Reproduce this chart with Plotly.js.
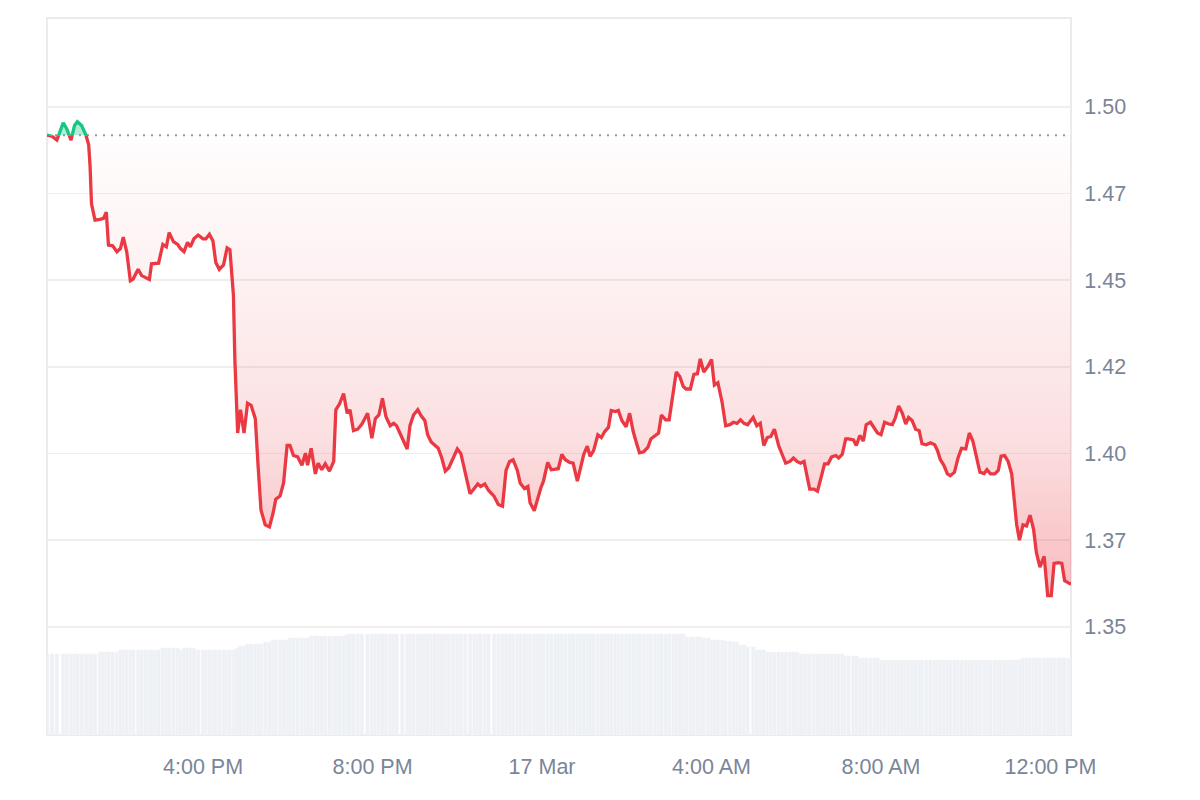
<!DOCTYPE html>
<html><head><meta charset="utf-8">
<script src="https://cdn.plot.ly/plotly-3.0.1.min.js"></script>
<style>html,body{margin:0;padding:0;background:#fff}#chart{width:1200px;height:800px}</style>
</head><body><div id="chart"></div>
<script>
const times = [
"2025-03-16 12:19","2025-03-16 12:26","2025-03-16 12:33","2025-03-16 12:42","2025-03-16 12:47","2025-03-16 12:53","2025-03-16 12:58","2025-03-16 13:02","2025-03-16 13:08","2025-03-16 13:14",
"2025-03-16 13:18","2025-03-16 13:20","2025-03-16 13:22","2025-03-16 13:27","2025-03-16 13:34","2025-03-16 13:39","2025-03-16 13:43","2025-03-16 13:46","2025-03-16 13:52","2025-03-16 13:58",
"2025-03-16 14:03","2025-03-16 14:07","2025-03-16 14:12","2025-03-16 14:17","2025-03-16 14:21","2025-03-16 14:28","2025-03-16 14:33","2025-03-16 14:39","2025-03-16 14:44","2025-03-16 14:47",
"2025-03-16 14:52","2025-03-16 14:57","2025-03-16 15:03","2025-03-16 15:08","2025-03-16 15:12","2025-03-16 15:18","2025-03-16 15:24","2025-03-16 15:28","2025-03-16 15:33","2025-03-16 15:38",
"2025-03-16 15:42","2025-03-16 15:47","2025-03-16 15:53","2025-03-16 16:00","2025-03-16 16:04","2025-03-16 16:09","2025-03-16 16:14","2025-03-16 16:18","2025-03-16 16:23","2025-03-16 16:29",
"2025-03-16 16:34","2025-03-16 16:38","2025-03-16 16:43","2025-03-16 16:45","2025-03-16 16:49","2025-03-16 16:53","2025-03-16 16:58","2025-03-16 17:03","2025-03-16 17:08","2025-03-16 17:14",
"2025-03-16 17:18","2025-03-16 17:22","2025-03-16 17:28","2025-03-16 17:34","2025-03-16 17:39","2025-03-16 17:43","2025-03-16 17:49","2025-03-16 17:54","2025-03-16 17:59","2025-03-16 18:03",
"2025-03-16 18:08","2025-03-16 18:14","2025-03-16 18:20","2025-03-16 18:25","2025-03-16 18:28","2025-03-16 18:33","2025-03-16 18:39","2025-03-16 18:43","2025-03-16 18:48","2025-03-16 18:53",
"2025-03-16 18:59","2025-03-16 19:05","2025-03-16 19:08","2025-03-16 19:13","2025-03-16 19:19","2025-03-16 19:24","2025-03-16 19:28","2025-03-16 19:33","2025-03-16 19:39","2025-03-16 19:45",
"2025-03-16 19:53","2025-03-16 19:59","2025-03-16 20:04","2025-03-16 20:09","2025-03-16 20:14","2025-03-16 20:19","2025-03-16 20:25","2025-03-16 20:30","2025-03-16 20:34","2025-03-16 20:42",
"2025-03-16 20:49","2025-03-16 20:53","2025-03-16 20:58","2025-03-16 21:04","2025-03-16 21:09","2025-03-16 21:14","2025-03-16 21:18","2025-03-16 21:23","2025-03-16 21:28","2025-03-16 21:33",
"2025-03-16 21:38","2025-03-16 21:43","2025-03-16 21:48","2025-03-16 21:54","2025-03-16 22:00","2025-03-16 22:05","2025-03-16 22:11","2025-03-16 22:18","2025-03-16 22:24","2025-03-16 22:29",
"2025-03-16 22:33","2025-03-16 22:39","2025-03-16 22:44","2025-03-16 22:52","2025-03-16 22:58","2025-03-16 23:04","2025-03-16 23:09","2025-03-16 23:14","2025-03-16 23:19","2025-03-16 23:25",
"2025-03-16 23:29","2025-03-16 23:35","2025-03-16 23:40","2025-03-16 23:43","2025-03-16 23:49","2025-03-16 23:54","2025-03-16 23:58","2025-03-17 00:02","2025-03-17 00:08","2025-03-17 00:13",
"2025-03-17 00:19","2025-03-17 00:23","2025-03-17 00:28","2025-03-17 00:33","2025-03-17 00:39","2025-03-17 00:44","2025-03-17 00:50","2025-03-17 00:54","2025-03-17 00:59","2025-03-17 01:04",
"2025-03-17 01:08","2025-03-17 01:13","2025-03-17 01:19","2025-03-17 01:24","2025-03-17 01:29","2025-03-17 01:34","2025-03-17 01:38","2025-03-17 01:44","2025-03-17 01:48","2025-03-17 01:53",
"2025-03-17 01:59","2025-03-17 02:04","2025-03-17 02:09","2025-03-17 02:14","2025-03-17 02:18","2025-03-17 02:24","2025-03-17 02:30","2025-03-17 02:34","2025-03-17 02:40","2025-03-17 02:45",
"2025-03-17 02:49","2025-03-17 02:55","2025-03-17 03:00","2025-03-17 03:06","2025-03-17 03:10","2025-03-17 03:15","2025-03-17 03:20","2025-03-17 03:24","2025-03-17 03:30","2025-03-17 03:35",
"2025-03-17 03:40","2025-03-17 03:44","2025-03-17 03:49","2025-03-17 03:55","2025-03-17 04:00","2025-03-17 04:04","2025-03-17 04:09","2025-03-17 04:15","2025-03-17 04:20","2025-03-17 04:26",
"2025-03-17 04:31","2025-03-17 04:36","2025-03-17 04:41","2025-03-17 04:46","2025-03-17 04:51","2025-03-17 04:59","2025-03-17 05:04","2025-03-17 05:09","2025-03-17 05:14","2025-03-17 05:19",
"2025-03-17 05:24","2025-03-17 05:29","2025-03-17 05:35","2025-03-17 05:40","2025-03-17 05:45","2025-03-17 05:51","2025-03-17 05:56","2025-03-17 06:01","2025-03-17 06:06","2025-03-17 06:11",
"2025-03-17 06:15","2025-03-17 06:19","2025-03-17 06:25","2025-03-17 06:30","2025-03-17 06:35","2025-03-17 06:40","2025-03-17 06:45","2025-03-17 06:50","2025-03-17 06:56","2025-03-17 07:00",
"2025-03-17 07:05","2025-03-17 07:10","2025-03-17 07:14","2025-03-17 07:21","2025-03-17 07:25","2025-03-17 07:30","2025-03-17 07:35","2025-03-17 07:39","2025-03-17 07:45","2025-03-17 07:51",
"2025-03-17 07:55","2025-03-17 08:00","2025-03-17 08:05","2025-03-17 08:11","2025-03-17 08:16","2025-03-17 08:20","2025-03-17 08:25","2025-03-17 08:30","2025-03-17 08:35","2025-03-17 08:39",
"2025-03-17 08:44","2025-03-17 08:49","2025-03-17 08:54","2025-03-17 08:58","2025-03-17 09:04","2025-03-17 09:10","2025-03-17 09:16","2025-03-17 09:20","2025-03-17 09:24","2025-03-17 09:29",
"2025-03-17 09:34","2025-03-17 09:38","2025-03-17 09:44","2025-03-17 09:49","2025-03-17 09:54","2025-03-17 10:00","2025-03-17 10:05","2025-03-17 10:10","2025-03-17 10:15","2025-03-17 10:20",
"2025-03-17 10:26","2025-03-17 10:30","2025-03-17 10:35","2025-03-17 10:41","2025-03-17 10:46","2025-03-17 10:50","2025-03-17 10:55","2025-03-17 11:00","2025-03-17 11:05","2025-03-17 11:08",
"2025-03-17 11:12","2025-03-17 11:16","2025-03-17 11:21","2025-03-17 11:26","2025-03-17 11:31","2025-03-17 11:36","2025-03-17 11:40","2025-03-17 11:45","2025-03-17 11:51","2025-03-17 11:56",
"2025-03-17 12:01","2025-03-17 12:05","2025-03-17 12:11","2025-03-17 12:16","2025-03-17 12:20","2025-03-17 12:26","2025-03-17 12:29"
];

const prices = [
1.4918,1.4915,1.4904,1.4954,1.4936,1.4904,1.4946,1.4957,1.4946,1.4919,
1.4890,1.4828,1.4720,1.4673,1.4675,1.4678,1.4696,1.4601,1.4599,1.4582,
1.4591,1.4624,1.4580,1.4498,1.4503,1.4531,1.4513,1.4506,1.4502,1.4547,
1.4547,1.4549,1.4603,1.4596,1.4637,1.4611,1.4603,1.4591,1.4582,1.4609,
1.4596,1.4619,1.4630,1.4619,1.4619,1.4632,1.4613,1.4551,1.4531,1.4544,
1.4593,1.4588,1.4456,1.4271,1.4059,1.4126,1.4059,1.4145,1.4139,1.4100,
1.3961,1.3837,1.3794,1.3788,1.3827,1.3868,1.3877,1.3915,1.4023,1.4023,
1.3994,1.3990,1.3966,1.4001,1.3966,1.4015,1.3941,1.3972,1.3953,1.3970,
1.3949,1.3977,1.4126,1.4142,1.4173,1.4116,1.4126,1.4066,1.4070,1.4085,
1.4116,1.4044,1.4101,1.4111,1.4159,1.4106,1.4080,1.4087,1.4080,1.4044,
1.4013,1.4080,1.4111,1.4126,1.4108,1.4095,1.4054,1.4033,1.4023,1.4015,
1.3987,1.3949,1.3959,1.3987,1.4013,1.4000,1.3951,1.3884,1.3899,1.3912,
1.3905,1.3912,1.3894,1.3877,1.3853,1.3848,1.3951,1.3977,1.3982,1.3951,
1.3915,1.3899,1.3905,1.3858,1.3835,1.3874,1.3899,1.3920,1.3974,1.3953,
1.3956,1.3956,1.3997,1.3982,1.3974,1.3972,1.3920,1.3951,1.3997,1.4021,
1.3992,1.4008,1.4054,1.4046,1.4064,1.4075,1.4124,1.4121,1.4124,1.4095,
1.4077,1.4116,1.4064,1.4028,1.4002,1.4005,1.4018,1.4042,1.4052,1.4059,
1.4111,1.4097,1.4097,1.4183,1.4235,1.4222,1.4193,1.4186,1.4186,1.4228,
1.4230,1.4273,1.4235,1.4252,1.4271,1.4197,1.4204,1.4147,1.4080,1.4083,
1.4090,1.4087,1.4097,1.4087,1.4083,1.4104,1.4080,1.4087,1.4023,1.4046,
1.4049,1.4070,1.4023,1.3997,1.3972,1.3977,1.3987,1.3977,1.3972,1.3977,
1.3936,1.3897,1.3897,1.3891,1.3930,1.3970,1.3970,1.3990,1.3994,1.3987,
1.3997,1.4042,1.4042,1.4039,1.4023,1.4052,1.4036,1.4083,1.4090,1.4070,
1.4059,1.4054,1.4090,1.4085,1.4083,1.4101,1.4137,1.4117,1.4085,1.4104,
1.4095,1.4070,1.4066,1.4028,1.4025,1.4031,1.4025,1.4008,1.3982,1.3966,
1.3941,1.3936,1.3946,1.3987,1.4015,1.4013,1.4059,1.4036,1.3990,1.3946,
1.3942,1.3953,1.3941,1.3941,1.3951,1.3992,1.3994,1.3977,1.3941,1.3868,
1.3796,1.3750,1.3794,1.3791,1.3822,1.3781,1.3714,1.3672,1.3703,1.3590,
1.3590,1.3683,1.3685,1.3683,1.3633,1.3626,1.3623
];

const volumes = [
81,81,81,81,81,81,81,81,81,81,
81,81,81,81,83,83,83,83,83,83,
85,85,85,85,85,85,85,85,85,85,
85,85,87,87,87,87,87,85,87,87,
87,87,85,85,85,85,85,85,85,85,
85,85,85,85,87,89,89,91,91,91,
91,91,93,93,95,95,95,95,95,97,
97,97,97,97,97,99,99,99,99,99,
99,99,99,99,99,101,101,101,101,101,
101,101,101,101,101,101,101,101,101,101,
101,101,101,101,101,101,101,101,101,101,
101,101,101,101,101,101,101,101,101,101,
101,101,101,101,101,101,101,101,101,101,
101,101,101,101,101,101,101,101,101,101,
101,101,101,101,101,101,101,101,101,101,
101,101,101,101,101,101,101,101,101,101,
101,101,101,101,101,101,101,101,101,101,
101,101,101,101,101,101,101,98,98,98,
98,98,97,97,95,95,95,95,94,94,
93,93,90,90,88,88,85,85,85,83,
83,83,83,83,83,83,83,83,81,81,
81,81,81,81,81,81,81,81,81,81,
81,79,79,79,79,77,77,77,77,77,
77,75,75,75,75,75,75,75,75,75,
75,75,75,75,75,75,75,75,75,75,
75,75,75,75,75,75,75,75,75,75,
75,75,75,75,75,75,75,75,75,75,
75,75,77,77,77,77,77,77,77,77,
77,77,77,77,77,77,77
];

const xTickVals = ["2025-03-16 16:00","2025-03-16 20:00","2025-03-17 00:00","2025-03-17 04:00","2025-03-17 08:00","2025-03-17 12:00"];
const xTickText = ["4:00 PM","8:00 PM","17 Mar","4:00 AM","8:00 AM","12:00 PM"];
const yTickVals = [1.35,1.375,1.40,1.425,1.45,1.475,1.50];
const yTickText = ["1.35","1.37","1.40","1.42","1.45","1.47","1.50"];

const Y_RANGE = [1.3188, 1.5256];
const RED = '#ea3943', GREEN = '#16c784';
const FONT = {family:'"Liberation Sans", Arial, sans-serif', size:21.5, color:'#7a8599'};
const M = {l:47, r:129, t:18, b:65};
const H = 800;

const base = prices[0];
const minP = Math.min.apply(null, prices);
const f = (base - Y_RANGE[0]) / (Y_RANGE[1] - Y_RANGE[0]);
const baseLine = times.map(() => base);
const lowVals = [], lowText = [], highVals = [], highText = [];
yTickVals.forEach((v, i) => { if (v < base) { lowVals.push(v); lowText.push(yTickText[i]); } else { highVals.push(v); highText.push(yTickText[i]); } });

const traces = [
  {x: times, y: volumes, type:'bar', yaxis:'y2', marker:{color:'#edf0f4', line:{color:'#f6f7f9', width:0.6}}, width:320000, hoverinfo:'skip'},
  {x: times, y: baseLine, yaxis:'y', mode:'lines', line:{width:0, color:'rgba(0,0,0,0)'}, hoverinfo:'skip'},
  {x: times, y: prices, yaxis:'y', mode:'lines', fill:'tonexty',
   fillgradient:{type:'vertical', start:minP, stop:base,
     colorscale:[[0,'rgba(234,57,67,0.33)'],[0.12,'rgba(234,57,67,0.28)'],[0.34,'rgba(234,57,67,0.16)'],[0.64,'rgba(234,57,67,0.08)'],[0.86,'rgba(234,57,67,0.035)'],[1,'rgba(234,57,67,0.01)']]},
   line:{color:RED, width:3.3, shape:'linear'}},
  {x: times, y: baseLine, yaxis:'y3', mode:'lines', line:{width:0, color:'rgba(0,0,0,0)'}, hoverinfo:'skip'},
  {x: times, y: prices, yaxis:'y3', mode:'lines', fill:'tonexty', fillcolor:'rgba(22,199,132,0.32)',
   line:{color:GREEN, width:3.3}}
];

const yCommon = {side:'right', anchor:'x', showgrid:true, gridcolor:'#efefef', gridwidth:1.5,
  zeroline:false, showline:false, ticks:'outside', ticklen:8, tickcolor:'rgba(0,0,0,0)', tickfont:FONT, fixedrange:true};

const layout = {
  width:1200, height:H, margin:M, showlegend:false,
  paper_bgcolor:'#ffffff', plot_bgcolor:'rgba(0,0,0,0)', bargap:0,
  xaxis:{type:'date', anchor:'y', range:[times[0], times[times.length-1]], tickvals:xTickVals, ticktext:xTickText,
    showgrid:false, zeroline:false, showline:false, ticks:'outside', ticklen:12, tickcolor:'rgba(0,0,0,0)', tickfont:FONT, fixedrange:true},
  yaxis:Object.assign({}, yCommon, {domain:[0,f], range:[Y_RANGE[0], base], tickvals:lowVals, ticktext:lowText}),
  yaxis3:Object.assign({}, yCommon, {domain:[f,1], range:[base, Y_RANGE[1]], tickvals:highVals, ticktext:highText}),
  yaxis2:{overlaying:'y', range:[0, (H - M.t - M.b) * f], visible:false, fixedrange:true},
  shapes:[
    {type:'rect', xref:'paper', yref:'paper', x0:0, x1:1, y0:0, y1:1, line:{color:'#ebebeb', width:2}, layer:'below'},
    {type:'line', xref:'paper', yref:'paper', x0:0, x1:1, y0:f, y1:f, line:{color:'#9b9b9b', width:2, dash:'2px,6px'}, layer:'below'}
  ]
};

Plotly.newPlot('chart', traces, layout, {displayModeBar:false, staticPlot:true});
</script>
</body></html>
